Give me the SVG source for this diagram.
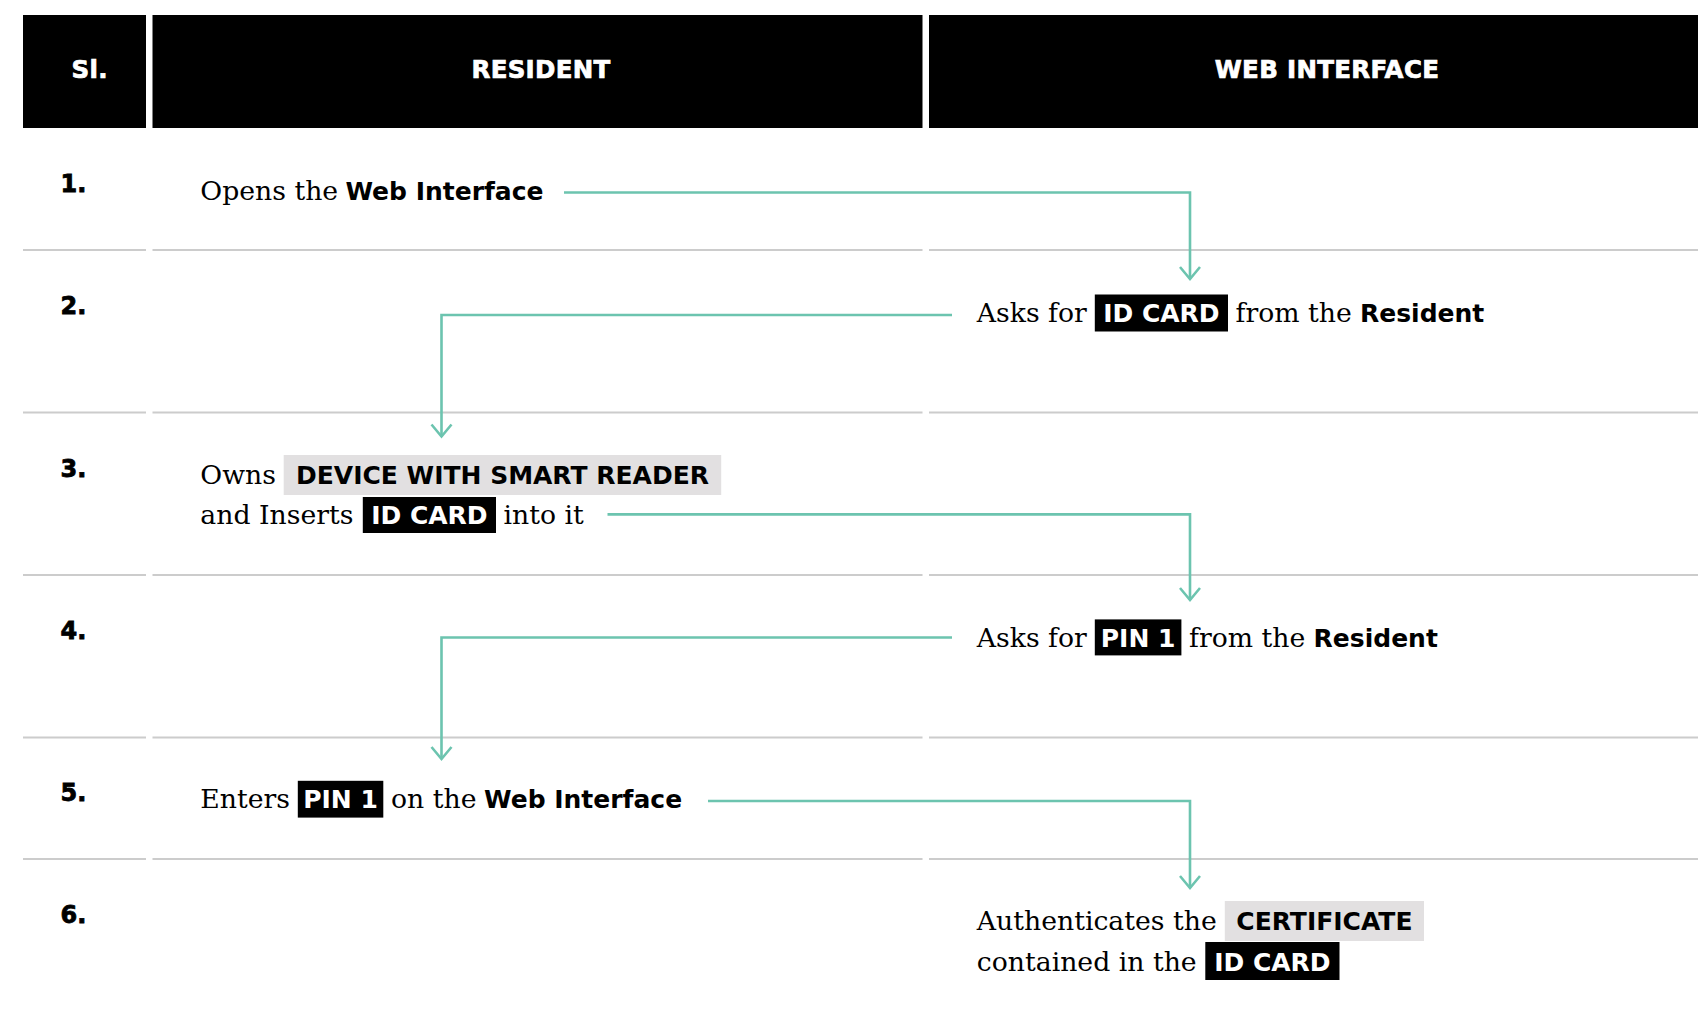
<svg xmlns="http://www.w3.org/2000/svg" width="1698" height="1012" viewBox="0 0 1698 1012">
<defs>
<marker id="chev" markerUnits="userSpaceOnUse" markerWidth="30" markerHeight="30" viewBox="-15 -15 30 30" refX="0" refY="0" orient="auto" overflow="visible">
<path d="M-12,-10 L0,0 L-12,10" fill="none" stroke="#6cc4af" stroke-width="2.6" stroke-linejoin="miter"/>
</marker>
</defs>
<style>
.hdr{fill:#000}
.ht{font-family:"DejaVu Sans","Liberation Sans",sans-serif;font-weight:bold;font-size:24.5px;fill:#fff;stroke:#fff;stroke-width:0.7px;letter-spacing:0.3px}
.num{font-family:"DejaVu Sans","Liberation Sans",sans-serif;font-weight:bold;font-size:24px;fill:#000;stroke:#000;stroke-width:0.8px}
.sep{stroke:#cccccc;stroke-width:2;fill:none}
.sf{font-family:"DejaVu Serif","Liberation Serif",serif;font-size:26.7px;fill:#000}
.bs{font-family:"DejaVu Sans","Liberation Sans",sans-serif;font-weight:bold;font-size:25px;fill:#000}
.bk{fill:#000}
.gr{fill:#e2e0e1}
.wt{font-family:"DejaVu Sans","Liberation Sans",sans-serif;font-weight:bold;font-size:25px;fill:#fff;text-anchor:middle}
.dt{font-family:"DejaVu Sans","Liberation Sans",sans-serif;font-weight:bold;font-size:25px;fill:#000;text-anchor:middle}
.con{fill:none;stroke:#6cc4af;stroke-width:2.6;marker-end:url(#chev)}
</style>
<rect width="1698" height="1012" fill="#fff"/>

<g id="header">
<rect class="hdr" x="23" y="15" width="123" height="113"/>
<rect class="hdr" x="152.5" y="15" width="770" height="113"/>
<rect class="hdr" x="929" y="15" width="769" height="113"/>
<text class="ht" x="71.5" y="78">Sl.</text>
<text class="ht" x="541" y="78" text-anchor="middle">RESIDENT</text>
<text class="ht" x="1327" y="78" text-anchor="middle">WEB INTERFACE</text>
</g>

<g id="separators">
<path class="sep" d="M23,250H146M152.5,250H922.5M929,250H1698"/>
<path class="sep" d="M23,412.6H146M152.5,412.6H922.5M929,412.6H1698"/>
<path class="sep" d="M23,575H146M152.5,575H922.5M929,575H1698"/>
<path class="sep" d="M23,737.5H146M152.5,737.5H922.5M929,737.5H1698"/>
<path class="sep" d="M23,859H146M152.5,859H922.5M929,859H1698"/>
</g>

<g id="numbers">
<text class="num" x="60.5" y="192">1.</text>
<text class="num" x="60.5" y="314">2.</text>
<text class="num" x="60.5" y="476.5">3.</text>
<text class="num" x="60.5" y="639">4.</text>
<text class="num" x="60.5" y="800.5">5.</text>
<text class="num" x="60.5" y="922.5">6.</text>
</g>

<g id="step1">
<text class="sf" x="200.3" y="200">Opens the</text>
<text class="bs" x="345.4" y="200">Web Interface</text>
</g>

<g id="step2">
<text class="sf" x="976.8" y="322">Asks for</text>
<rect class="bk" x="1094.8" y="294.5" width="133.2" height="37"/>
<text class="wt" x="1161.4" y="322">ID CARD</text>
<text class="sf" x="1235.6" y="322">from the</text>
<text class="bs" x="1360" y="322">Resident</text>
</g>

<g id="step3">
<text class="sf" x="200.3" y="484">Owns</text>
<rect class="gr" x="283.7" y="455" width="437.5" height="40"/>
<text class="dt" x="502.5" y="484">DEVICE WITH SMART READER</text>
<text class="sf" x="200.3" y="524">and Inserts</text>
<rect class="bk" x="362.8" y="497" width="133.2" height="36"/>
<text class="wt" x="429.4" y="524">ID CARD</text>
<text class="sf" x="503.5" y="524">into it</text>
</g>

<g id="step4">
<text class="sf" x="976.8" y="647">Asks for</text>
<rect class="bk" x="1094.8" y="619.4" width="86.6" height="36"/>
<text class="wt" x="1138.1" y="647">PIN 1</text>
<text class="sf" x="1189" y="647">from the</text>
<text class="bs" x="1313.6" y="647">Resident</text>
</g>

<g id="step5">
<text class="sf" x="200.3" y="808.3">Enters</text>
<rect class="bk" x="297.8" y="780.8" width="85.5" height="36.8"/>
<text class="wt" x="340.5" y="808.3">PIN 1</text>
<text class="sf" x="391" y="808.3">on the</text>
<text class="bs" x="484" y="808.3">Web Interface</text>
</g>

<g id="step6">
<text class="sf" x="976.8" y="930">Authenticates the</text>
<rect class="gr" x="1224.8" y="901" width="199.2" height="40"/>
<text class="dt" x="1324.4" y="930">CERTIFICATE</text>
<text class="sf" x="976.8" y="970.5">contained in the</text>
<rect class="bk" x="1205.3" y="942" width="134.2" height="38"/>
<text class="wt" x="1272.4" y="970.5">ID CARD</text>
</g>

<g id="connectors">
<path class="con" d="M564,192.5H1190V279"/>
<path class="con" d="M952,315H441.5V436.5"/>
<path class="con" d="M607.5,514.4H1190V600"/>
<path class="con" d="M952,637.5H441.5V759"/>
<path class="con" d="M708,801H1190V888"/>
</g>
</svg>
